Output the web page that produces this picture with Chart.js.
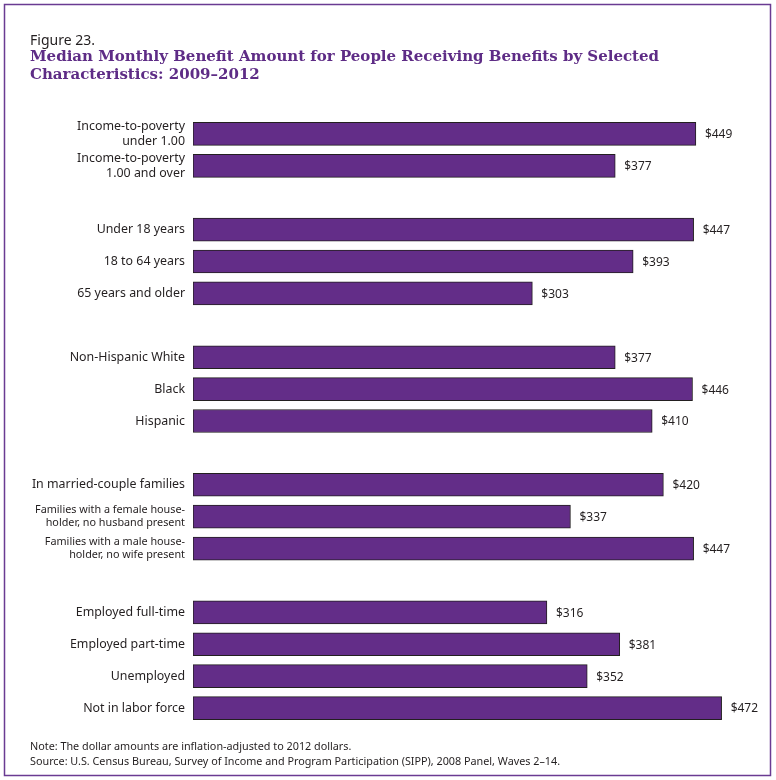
<!DOCTYPE html>
<html>
<head>
<meta charset="utf-8">
<script src="https://cdn.jsdelivr.net/npm/chart.js@4"></script>
<style>
  body { margin: 0; background: #fff; }
  #wrap { position: relative; width: 776px; height: 780px; }
</style>
</head>
<body>
<div id="wrap"><canvas id="benefit-chart"></canvas></div>
<script>
// categories with blank spacer rows between the groups
const categories = [
  ['Income-to-poverty', 'under 1.00'],
  ['Income-to-poverty', '1.00 and over'],
  '',
  'Under 18 years',
  '18 to 64 years',
  '65 years and older',
  '',
  'Non-Hispanic White',
  'Black',
  'Hispanic',
  '',
  'In married-couple families',
  ['Families with a female house-', 'holder, no husband present'],
  ['Families with a male house-', 'holder, no wife present'],
  '',
  'Employed full-time',
  'Employed part-time',
  'Unemployed',
  'Not in labor force'
];
const benefits = [449, 377, null, 447, 393, 303, null, 377, 446, 410, null, 420, 337, 447, null, 316, 381, 352, 472];

const figureLabel = 'Figure 23.';
const titleLines = [
  'Median Monthly Benefit Amount for People Receiving Benefits by Selected',
  'Characteristics: 2009\u20132012'
];
const noteLines = [
  'Note: The dollar amounts are inflation-adjusted to 2012 dollars.',
  'Source: U.S. Census Bureau, Survey of Income and Program Participation (SIPP), 2008 Panel, Waves 2\u201314.'
];

const PURPLE = '#632d88';
const SANS = '"Noto Sans", sans-serif';

// frame, heading, notes and the dollar labels
const decorations = {
  id: 'decorations',
  beforeDraw(chart) {
    const c = chart.ctx;
    c.save();
    c.strokeStyle = '#6a3b92';
    c.lineWidth = 1.5;
    c.strokeRect(4.5, 4.5, 766, 771);

    c.textBaseline = 'middle';
    c.textAlign = 'left';
    c.fillStyle = '#231f20';
    c.font = '14px ' + SANS;
    c.fillText(figureLabel, 30, 41);

    c.fillStyle = '#5e2c86';
    c.font = 'bold 15px "DejaVu Serif", serif';
    titleLines.forEach((t, i) => c.fillText(t, 30, 57 + i * 18));

    c.fillStyle = '#231f20';
    c.font = '10.8px ' + SANS;
    noteLines.forEach((t, i) => c.fillText(t, 30, 747 + i * 15));
    c.restore();
  },
  afterDatasetsDraw(chart) {
    const c = chart.ctx;
    const meta = chart.getDatasetMeta(0);
    c.save();
    c.fillStyle = '#231f20';
    c.font = '12px ' + SANS;
    c.textBaseline = 'middle';
    meta.data.forEach((bar, i) => {
      if (benefits[i] == null) return;
      c.fillText('$' + benefits[i], bar.x + 9, bar.y + 1);
    });
    c.restore();
  }
};

new Chart(document.getElementById('benefit-chart'), {
  type: 'bar',
  data: {
    labels: categories,
    datasets: [{
      data: benefits,
      backgroundColor: PURPLE,
      borderColor: '#231f20',
      borderWidth: 1,
      borderSkipped: false,
      barThickness: 23
    }]
  },
  options: {
    indexAxis: 'y',
    responsive: true,
    maintainAspectRatio: false,
    animation: false,
    layout: { padding: { left: 30, right: 23, top: 118, bottom: 56 } },
    plugins: {
      legend: { display: false },
      tooltip: { enabled: false }
    },
    scales: {
      x: { display: false, min: 0, max: 500 },
      y: {
        grid: { display: false, drawTicks: false },
        border: { display: false },
        afterFit: s => { s.width = 163; },
        ticks: {
          padding: 8,
          color: '#231f20',
          autoSkip: false,
          font: ctx => {
            const l = categories[ctx.index];
            const small = Array.isArray(l) && l[0].length > 20;
            return { family: SANS, size: small ? 10.8 : 12.4, lineHeight: small ? 1.2 : 1.2 };
          }
        }
      }
    }
  },
  plugins: [decorations]
});
</script>
</body>
</html>
